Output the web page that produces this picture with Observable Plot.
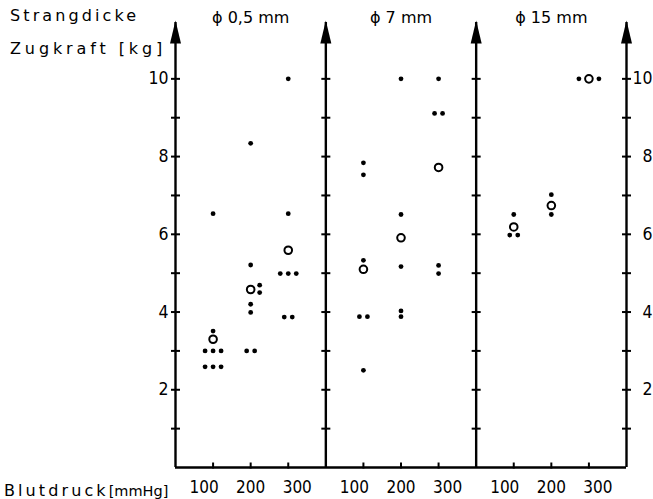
<!DOCTYPE html>
<html>
<head>
<meta charset="utf-8">
<script src="https://cdn.jsdelivr.net/npm/d3@7"></script>
<script src="https://cdn.jsdelivr.net/npm/@observablehq/plot@0.6"></script>
<style>
  html, body { margin: 0; padding: 0; background: white; }
</style>
</head>
<body>
<div id="chart"></div>
<script>
// ---- data ----
const panelTitles = ["ϕ 0,5 mm", "ϕ 7 mm", "ϕ 15 mm"];   // Strangdicke
const pressures = [100, 200, 300];                        // Blutdruck [mmHg]
const yTickLabels = [2, 4, 6, 8, 10];                     // Zugkraft [kg]

// single measurements, Zugkraft [kg]
const thin100  = [6.53, 3.51, 3.0, 3.0, 3.0, 2.59, 2.59, 2.59];
const thin200  = [8.34, 5.21, 4.69, 4.50, 4.20, 3.99, 3.0, 3.0];
const thin300  = [10.0, 6.53, 4.99, 4.99, 4.99, 3.87, 3.87];
const mid100   = [7.84, 7.53, 5.33, 3.88, 3.88, 2.5];
const mid200   = [10.0, 6.51, 5.17, 4.03, 3.88];
const mid300   = [10.0, 9.11, 9.11, 5.2, 4.99];
const thick100 = [6.51, 5.98, 5.98];
const thick200 = [7.02, 6.51];
const thick300 = [10.0, 10.0];

// means (open circles)
const meanThin  = [3.30, 4.58, 5.59];
const meanMid   = [5.10, 5.91, 7.72];
const meanThick = [6.19, 6.74, 10.0];

// ---- build tables ----
const W = 653, H = 499;
const mL = 175, mR = 27, mT = 22, mB = 32;
const panelSpan = 400;                       // x units per panel
const xMax = panelSpan * panelTitles.length;
const pxPerUnit = (W - mL - mR) / xMax;
const yMax = 11.45;

const singles = [[thin100, thin200, thin300], [mid100, mid200, mid300], [thick100, thick200, thick300]];
const meansAll = [meanThin, meanMid, meanThick];

const meanRows = [];
meansAll.forEach((arr, p) => arr.forEach((kg, j) => meanRows.push({panel: p, bp: pressures[j], kg})));

const pointRows = [];
singles.forEach((cols, p) => cols.forEach((vals, j) => {
  const mean = meansAll[p][j];
  const groups = d3.group(vals, v => v);
  for (const [kg, g] of groups) {
    const n = g.length;
    const nearMean = Math.abs(kg - mean) < 0.15;
    g.forEach((v, i) => {
      let off;
      if (nearMean) off = n === 1 ? 9 : (i === 0 ? -10 : 10);
      else off = (i - (n - 1) / 2) * 8;
      pointRows.push({panel: p, bp: pressures[j], kg: v, off});
    });
  }
}));

const boundaries = d3.range(panelTitles.length + 1).map(i => i * panelSpan);
const yTickGrid = d3.cross(boundaries, d3.range(1, 11));
const xTicks = d3.cross(d3.range(panelTitles.length), pressures).map(([p, bp]) => ({panel: p, bp}));
const px = off => off / pxPerUnit;

// custom symbols
const arrowHead = {draw(ctx) { ctx.moveTo(0, -2); ctx.lineTo(5.5, 21); ctx.lineTo(-5.5, 21); ctx.closePath(); }};
const hTick = {draw(ctx) { ctx.moveTo(-4.5, 0); ctx.lineTo(4.5, 0); }};
const vTick = {draw(ctx) { ctx.moveTo(0, -5); ctx.lineTo(0, 1); }};

const numFont = "'DejaVu Sans Condensed', 'DejaVu Sans', sans-serif";

const chart = Plot.plot({
  width: W, height: H,
  marginLeft: mL, marginRight: mR, marginTop: mT, marginBottom: mB,
  x: {domain: [0, xMax], axis: null},
  y: {domain: [0, yMax], axis: null},
  style: {background: "white", color: "black", fontFamily: numFont, fontSize: "16px"},
  marks: [
    Plot.ruleY([0], {stroke: "black", strokeWidth: 2.4}),
    Plot.ruleX(boundaries, {x: d => d, stroke: "black", strokeWidth: 2.4}),
    Plot.dot(boundaries, {x: d => d, frameAnchor: "top", symbol: arrowHead, fill: "black", stroke: "none"}),
    Plot.dot(yTickGrid, {x: d => d[0], y: d => d[1], symbol: hTick, stroke: "black", strokeWidth: 2, fill: "none"}),
    Plot.dot(xTicks, {x: d => d.panel * panelSpan + d.bp, frameAnchor: "bottom", symbol: vTick, stroke: "black", strokeWidth: 2, fill: "none"}),
    Plot.text(xTicks, {x: d => d.panel * panelSpan + d.bp + px((d.bp - 200) * 0.09), frameAnchor: "bottom", dy: 25, text: d => String(d.bp), fontSize: 17, fontFamily: numFont}),
    Plot.text(yTickLabels, {x: () => 0, y: d => d, dx: -7, textAnchor: "end", text: d => String(d), fontSize: 17.5}),
    Plot.text(yTickLabels, {x: () => xMax, y: d => d, dx: 26, textAnchor: "end", text: d => String(d), fontSize: 17.5}),
    Plot.text(panelTitles, {x: (d, i) => i * panelSpan + panelSpan / 2, frameAnchor: "top", dy: -11, text: d => d, fontSize: 16, fontFamily: "'DejaVu Sans', sans-serif"}),
    Plot.dot(pointRows, {x: d => d.panel * panelSpan + d.bp + px(d.off), y: "kg", r: 2.4, fill: "black", stroke: "none"}),
    Plot.dot(meanRows, {x: d => d.panel * panelSpan + d.bp, y: "kg", r: 3.8, fill: "white", stroke: "black", strokeWidth: 2})
  ]
});

const svg = d3.select(chart);
const lab = (x, y, parts) => {
  const t = svg.append("text").attr("x", x).attr("y", y).attr("text-anchor", "start")
    .attr("font-family", "'DejaVu Sans', sans-serif").attr("font-size", 16).attr("fill", "black");
  parts.forEach(([s, ls, fs]) => t.append("tspan").attr("letter-spacing", ls).attr("font-size", fs || 16).text(s));
};
lab(10, 21, [["Strangdicke", 3.1]]);
lab(10, 54, [["Zugkraft [kg]", 3.9]]);
lab(4, 496, [["Blutdruck", 3.1], ["[mmHg]", 0, 14.5]]);

document.getElementById("chart").appendChild(chart);
</script>
</body>
</html>
